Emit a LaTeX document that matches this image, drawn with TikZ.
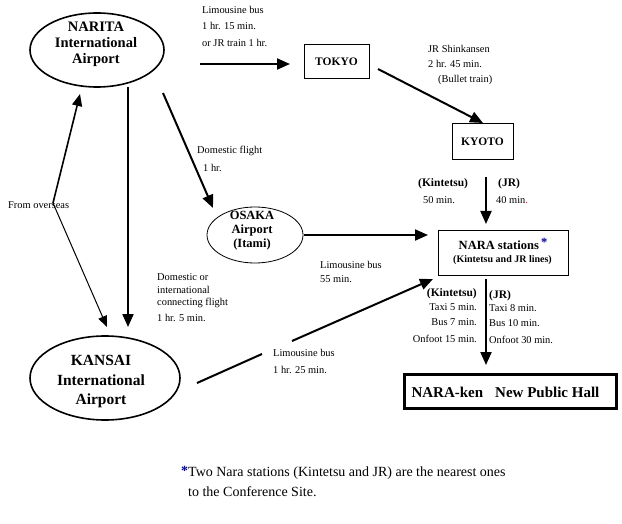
\documentclass[tikz,border=0pt]{standalone}
\usepackage{fontspec}
\setmainfont{Liberation Serif}
\usetikzlibrary{shapes.geometric,arrows.meta}
\definecolor{starblue}{RGB}{0,0,160}
\begin{document}
\begin{tikzpicture}[x=1pt,y=-1pt,
  sm/.style={font=\fontsize{10.4}{12}\selectfont, inner sep=0pt, anchor=west},
  smr/.style={sm, anchor=east},
  lb/.style={font=\bfseries\fontsize{11.5}{13}\selectfont, inner sep=0pt, anchor=west},
  lbr/.style={lb, anchor=east},
  arr/.style={line width=2pt, -{Triangle[width=11pt,length=13pt]}},
  thinarr/.style={line width=1pt, -{Triangle[width=9pt,length=11pt]}},
  rbox/.style={draw, line width=1pt, inner sep=0pt},
  airport/.style={draw, ellipse, inner sep=0pt},
  airtext/.style={font=\bfseries\fontsize{14.5}{16}\selectfont, align=center, inner sep=0pt},
]
\useasboundingbox (0,0) rectangle (622,524);

% airports
\node[airport, line width=1.6pt, minimum width=134pt, minimum height=74pt] (narita) at (97,50) {};
\node[airtext] (naritatxt) at (96,44) {NARITA\\International\\Airport};
\node[airport, line width=1.6pt, minimum width=150pt, minimum height=84pt] (kansai) at (105,378) {};
\node[airtext, font=\bfseries\fontsize{15.5}{19.5}\selectfont] (kansaitxt) at (101,382) {KANSAI\\International\\Airport};
\node[airport, line width=0.8pt, minimum width=96pt, minimum height=56pt] (osaka) at (255,235) {};
\node[airtext, font=\bfseries\fontsize{12.5}{14}\selectfont] (osakatxt) at (252,231) {OSAKA\\Airport\\(Itami)};

% stations
\node[rbox, minimum width=65pt, minimum height=34pt, font=\bfseries\fontsize{11.5}{13}\selectfont] (tokyo) at (336.5,62) {TOKYO\hspace{8pt}};
\node[rbox, minimum width=61pt, minimum height=36pt, font=\bfseries\fontsize{11.5}{13}\selectfont] (kyoto) at (482.5,142) {KYOTO};
\node[rbox, minimum width=130pt, minimum height=45pt] (nara) at (503,253.5) {};
\node[font=\bfseries\fontsize{12.5}{14}\selectfont, inner sep=0pt] (naratxt) at (503,244) {NARA stations\,\textcolor{starblue}{\raisebox{3pt}{*}}};
\node[font=\bfseries\fontsize{10}{12}\selectfont, inner sep=0pt] (naratxt2) at (502.5,260) {(Kintetsu and JR lines)};
\node[draw, line width=3pt, minimum width=212pt, minimum height=34pt, inner sep=0pt] (hall) at (510.5,391.5) {};
\node[font=\bfseries\fontsize{15}{17}\selectfont, inner sep=0pt] (halltxt) at (505.5,392) {NARA-ken\hspace{0.8em}New Public Hall};

% connector end points
\coordinate (ntS) at (200,64);  \coordinate (ntE) at (290,64);
\coordinate (tkS) at (378,69);  \coordinate (tkE) at (483,123);
\coordinate (knS) at (486,177); \coordinate (knE) at (486,224);
\coordinate (nhS) at (486,279); \coordinate (nhE) at (486,365);
\coordinate (onS) at (304,235); \coordinate (onE) at (428,235);
\coordinate (kaS) at (197,383); \coordinate (kaG1) at (262,354);
\coordinate (kaG2) at (292,341); \coordinate (kaE) at (433,279);
\coordinate (noS) at (163,93);  \coordinate (noE) at (213,208);
\coordinate (nkS) at (128,87);  \coordinate (nkE) at (128,327);
\coordinate (ovsU) at (80,94);  \coordinate (ovs) at (53,203); \coordinate (ovsD) at (107,327);

% connectors
\draw[arr] (ntS) -- (ntE);
\draw[arr] (tkS) -- (tkE);
\draw[arr] (knS) -- (knE);
\draw[arr] (nhS) -- (nhE);
\draw[arr] (onS) -- (onE);
\draw[line width=2pt] (kaS) -- (kaG1);
\draw[arr] (kaG2) -- (kaE);
\draw[arr] (noS) -- (noE);
\draw[arr] (nkS) -- (nkE);
\draw[line width=1.6pt, -{Triangle[width=10pt,length=12pt]}] (ovs) -- (ovsU);
\draw[thinarr] (ovs) -- (ovsD);

% labels
\node[sm] (l1a) at (202,10) {Limousine bus};
\node[sm] (l1b) at (202,26) {1 hr. 15 min.};
\node[sm] (l1c) at (202,43) {or JR train 1 hr.};
\node[sm] (l2a) at (428,49) {JR Shinkansen};
\node[sm] (l2b) at (428,64) {2 hr. 45 min.};
\node[sm] (l2c) at (438,80) {(Bullet train)};
\node[sm] (l3a) at (197,151) {Domestic flight};
\node[sm] (l3b) at (203,168) {1 hr.};
\node[lb] (l4a) at (418,184) {(Kintetsu)};
\node[sm] (l4b) at (423,200) {50 min.};
\node[lb] (l5a) at (498,184) {(JR)};
\node[sm] (l5b) at (496,200) {40 min\textcolor{red}{.}};
\node[sm] (l6a) at (320,265) {Limousine bus};
\node[sm] (l6b) at (320,279) {55 min.};
\node[sm] (l7a) at (157,277) {Domestic or};
\node[sm] (l7b) at (157,290) {international};
\node[sm] (l7c) at (157,303) {connecting flight};
\node[sm] (l7d) at (157,318) {1 hr. 5 min.};
\node[sm] (l8a) at (273,353) {Limousine bus};
\node[sm] (l8b) at (273,370) {1 hr. 25 min.};
\node[sm] (l9) at (8,205) {From overseas};
\node[lbr] (l10a) at (477,294) {(Kintetsu)};
\node[smr] (l10b) at (477,307) {Taxi 5 min.};
\node[smr] (l10c) at (477,322) {Bus 7 min.};
\node[smr] (l10d) at (477,339) {Onfoot 15 min.};
\node[lb] (l11a) at (489,296) {(JR)};
\node[sm] (l11b) at (489,308) {Taxi 8 min.};
\node[sm] (l11c) at (489,323) {Bus 10 min.};
\node[sm] (l11d) at (489,340) {Onfoot 30 min.};

% note
\node[font=\fontsize{14}{16}\selectfont, inner sep=0pt, anchor=west] (note1) at (181,473) {\textcolor{starblue}{\raisebox{1pt}{\bfseries *}}Two Nara stations (Kintetsu and JR) are the nearest ones};
\node[font=\fontsize{14}{16}\selectfont, inner sep=0pt, anchor=west] (note2) at (188,492) {to the Conference Site.};
\end{tikzpicture}
\end{document}
